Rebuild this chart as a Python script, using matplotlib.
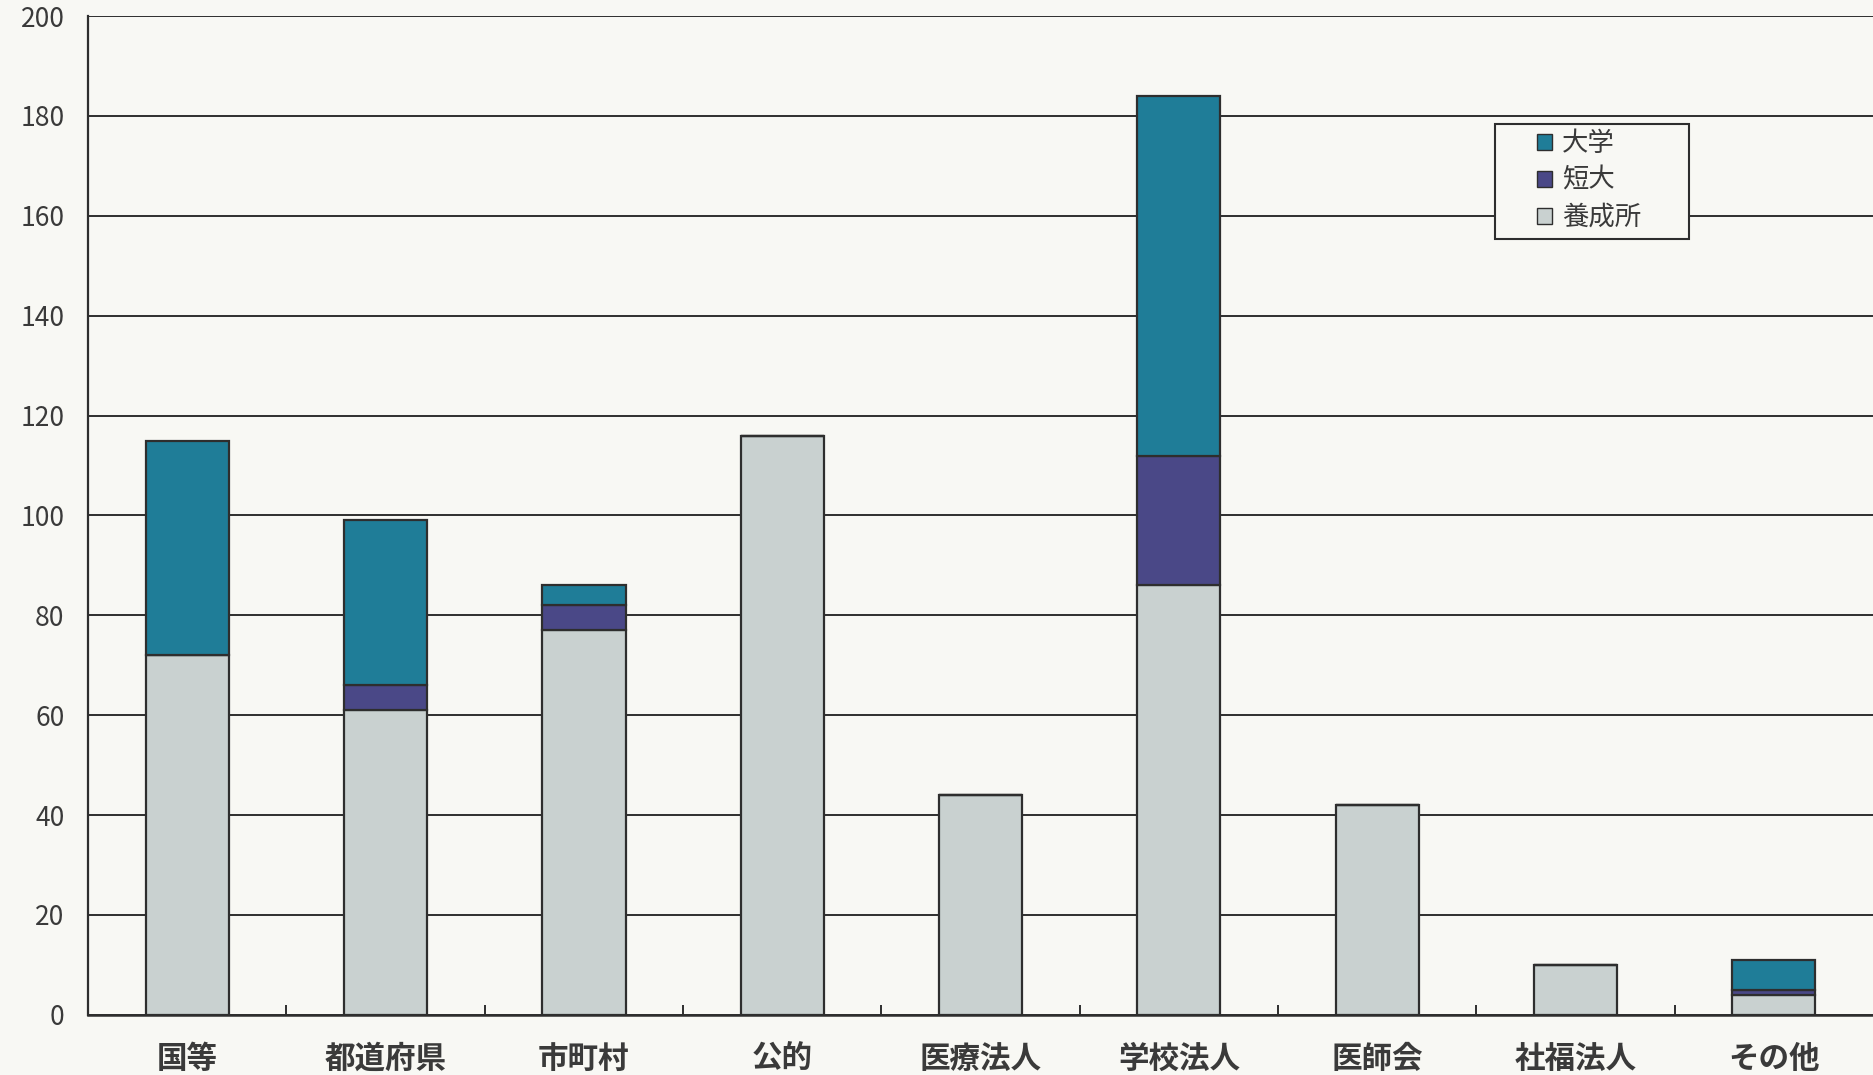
import numpy as np
import matplotlib.pyplot as plt
from matplotlib.patches import Patch, Rectangle

plt.rcParams['font.family'] = ['Noto Sans CJK JP', 'DejaVu Sans']

# 設置主体別の学校数
categories = ['国等', '都道府県', '市町村', '公的', '医療法人', '学校法人', '医師会', '社福法人', 'その他']
yoseisho = [72, 61, 77, 116, 44, 86, 42, 10, 4]
tandai = [0, 5, 5, 0, 0, 26, 0, 0, 1]
daigaku = [43, 33, 4, 0, 0, 72, 0, 0, 6]
series_names = ['大学', '短大', '養成所']
y_ticks = [0, 20, 40, 60, 80, 100, 120, 140, 160, 180, 200]

c_dai = '#1f7d98'
c_tan = '#4a4887'
c_yo = '#c9d1d0'
bg = '#f8f8f4'
dark = '#2e2e2e'
txt = '#3a3a3a'

fig = plt.figure(figsize=(18.73, 10.75), dpi=100, facecolor=bg)
ax = fig.add_axes([0.047, 0.056, 0.953, 0.929], facecolor=bg)

x = np.arange(len(categories))
w = 0.42
yo = np.array(yoseisho)
ta = np.array(tandai)
da = np.array(daigaku)
kw = dict(width=w, edgecolor=dark, linewidth=1.6, zorder=3)
ax.bar(x, yo, color=c_yo, **kw)
ax.bar(x, ta, bottom=yo, color=c_tan, **kw)
ax.bar(x, da, bottom=yo + ta, color=c_dai, **kw)

ax.set_xlim(-0.5, len(categories) - 0.5)
ax.set_ylim(0, 200)
ax.set_yticks(y_ticks)
ax.yaxis.grid(True, color=dark, linewidth=1.4, zorder=0)
ax.set_axisbelow(True)

ax.set_xticks(x)
ax.set_xticklabels(categories, fontsize=22, fontweight='bold', color=txt)
ax.set_xticks(x[:-1] + 0.5, minor=True)
ax.tick_params(axis='x', which='major', length=0, pad=20)
ax.tick_params(axis='x', which='minor', direction='in', length=7, width=1.4, color=dark)
ax.tick_params(axis='y', length=0, pad=17, labelsize=19, labelcolor=txt)

for s in ['top', 'right']:
    ax.spines[s].set_visible(False)
ax.spines['left'].set_color(dark)
ax.spines['left'].set_linewidth(1.6)
ax.spines['bottom'].set_color(dark)
ax.spines['bottom'].set_linewidth(1.8)

# 凡例（枠は別に描く）
ax.add_patch(Rectangle((0.788, 0.777), 0.109, 0.115, transform=ax.transAxes,
                       facecolor=bg, edgecolor=dark, linewidth=1.5, zorder=4))
handles = [Patch(facecolor=c, edgecolor=dark, linewidth=1.0) for c in (c_dai, c_tan, c_yo)]
leg = ax.legend(handles, series_names, loc='upper left', bbox_to_anchor=(0.812, 0.886),
                fontsize=19, frameon=False,
                handlelength=0.57, handleheight=0.57, handletextpad=0.36,
                borderpad=0, labelspacing=0.38, borderaxespad=0)
leg.set_zorder(5)
for t in leg.get_texts():
    t.set_color(txt)

fig.savefig('out.png', dpi=100, facecolor=bg)
